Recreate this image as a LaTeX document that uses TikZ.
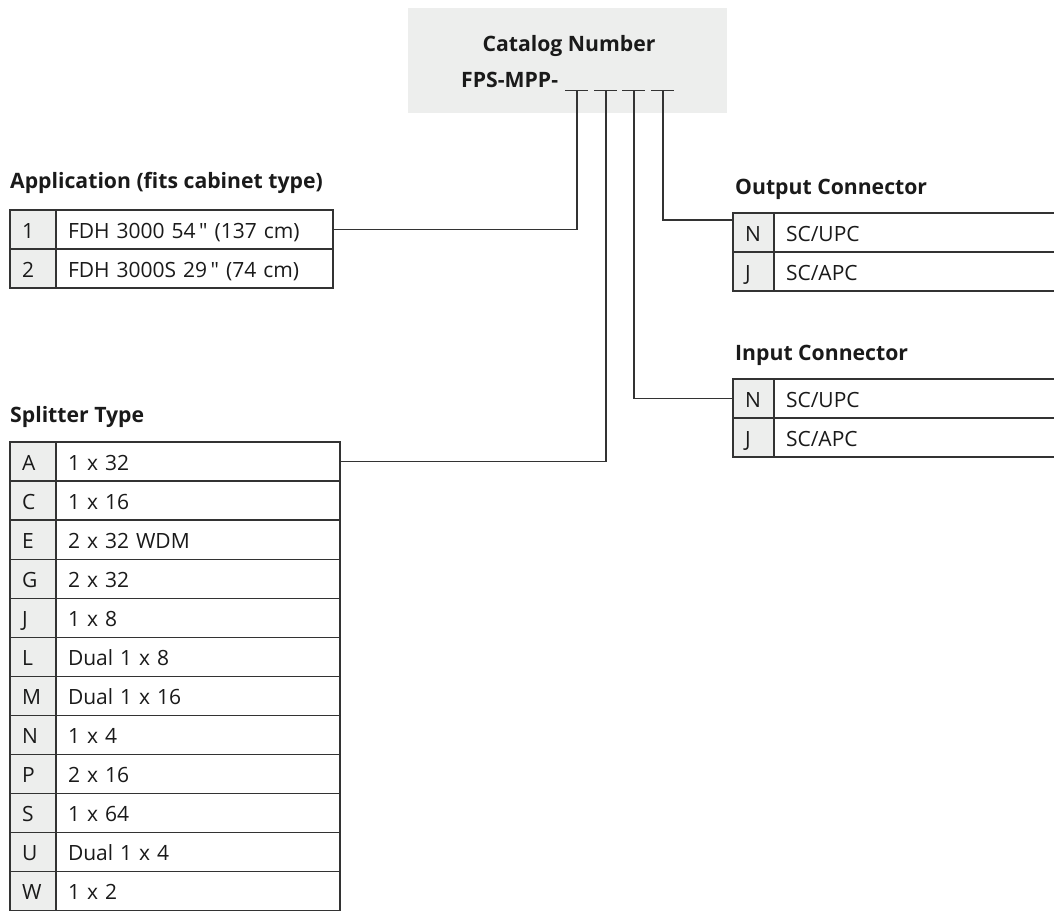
\documentclass[tikz,border=0pt]{standalone}
\usepackage{fontspec}
\setmainfont{Open Sans}
% same family without the TeX quote mapping, for a straight inch mark
\newfontfamily\plainfamily{Open Sans}
\definecolor{boxgray}{HTML}{EDEEED}
\definecolor{codegray}{HTML}{EDEEED}
\definecolor{linec}{HTML}{333333}
\definecolor{textc}{HTML}{1A1A1A}
\newcommand{\inchmark}{\,{\plainfamily"}}
\begin{document}
\begin{tikzpicture}[x=1pt,y=-1pt,
  bodyfont/.style={font=\fontsize{21}{25}\selectfont},
  titlefont/.style={font=\fontsize{21.2}{25}\selectfont\bfseries},
  title/.style={titlefont, text=textc, anchor=base west, inner sep=0pt},
  cell/.style={bodyfont, text=textc, draw=linec, line width=1.2pt, anchor=north west,
    minimum height=39pt, inner xsep=12pt, inner ysep=0pt, align=left,
    text height=17pt, text depth=0pt, outer sep=0pt},
  codecell/.style={cell, fill=codegray, text width=22pt},
  desccell/.style={cell, fill=white, text width=#1},
  conn/.style={draw=linec, line width=1.2pt}]
\useasboundingbox (0,0) rectangle (1054,912);

% catalog number header
\node[fill=boxgray, minimum width=319pt, minimum height=105pt, anchor=north west, inner sep=0pt] (hdr) at (408,8) {};
\node[titlefont, text=textc, anchor=base, inner sep=0pt] (cattitle) at (569,52) {Catalog Number};
\node[titlefont, text=textc, anchor=base west, inner sep=0pt] (prefix) at (461,88) {FPS-MPP-};
\coordinate (u1) at (577,90.5);
\coordinate (u2) at (606,90.5);
\coordinate (u3) at (634,90.5);
\coordinate (u4) at (663,90.5);
\foreach \u in {u1,u2,u3,u4}
  \draw[conn] ([xshift=-12pt]\u) -- ([xshift=11pt]\u);

% application table
\node[title] (apptitle) at (10,189) {Application (fits cabinet type)};
\foreach \c/\d [count=\i] in {1/{FDH 3000 54\inchmark{} (137 cm)}, 2/{FDH 3000S 29\inchmark{} (74 cm)}} {
  \node[codecell] (app\i c) at (10,{210+39*(\i-1)}) {\c};
  \node[desccell=253pt] (app\i d) at (56,{210+39*(\i-1)}) {\d};
}

% splitter table
\node[title] (sptitle) at (10,422) {Splitter Type};
\foreach \c/\d [count=\i] in {A/1 x 32, C/1 x 16, E/2 x 32 WDM, G/2 x 32, J/1 x 8,
    L/Dual 1 x 8, M/Dual 1 x 16, N/1 x 4, P/2 x 16, S/1 x 64, U/Dual 1 x 4, W/1 x 2} {
  \node[codecell] (sp\i c) at (10,{442+39.05*(\i-1)}) {\c};
  \node[desccell=260pt] (sp\i d) at (56,{442+39.05*(\i-1)}) {\d};
}

% output connector table
\node[title] (outtitle) at (735,194) {Output Connector};
\foreach \c/\d [count=\i] in {N/{SC/UPC}, J/{SC/APC}} {
  \node[codecell] (out\i c) at (733,{213+39*(\i-1)}) {\c};
  \node[desccell=272pt] (out\i d) at (774,{213+39*(\i-1)}) {\d};
}

% input connector table
\node[title] (intitle) at (735,360) {Input Connector};
\foreach \c/\d [count=\i] in {N/{SC/UPC}, J/{SC/APC}} {
  \node[codecell] (in\i c) at (733,{379+39*(\i-1)}) {\c};
  \node[desccell=272pt] (in\i d) at (774,{379+39*(\i-1)}) {\d};
}

% leader lines from the code positions
\draw[conn] (u1) |- (app1d.east);
\draw[conn] (u2) |- (sp1d.east);
\draw[conn] (u3) |- (in1c.west);
\draw[conn] (u4) |- ([yshift=-7pt]out1c.north west);
\end{tikzpicture}
\end{document}
